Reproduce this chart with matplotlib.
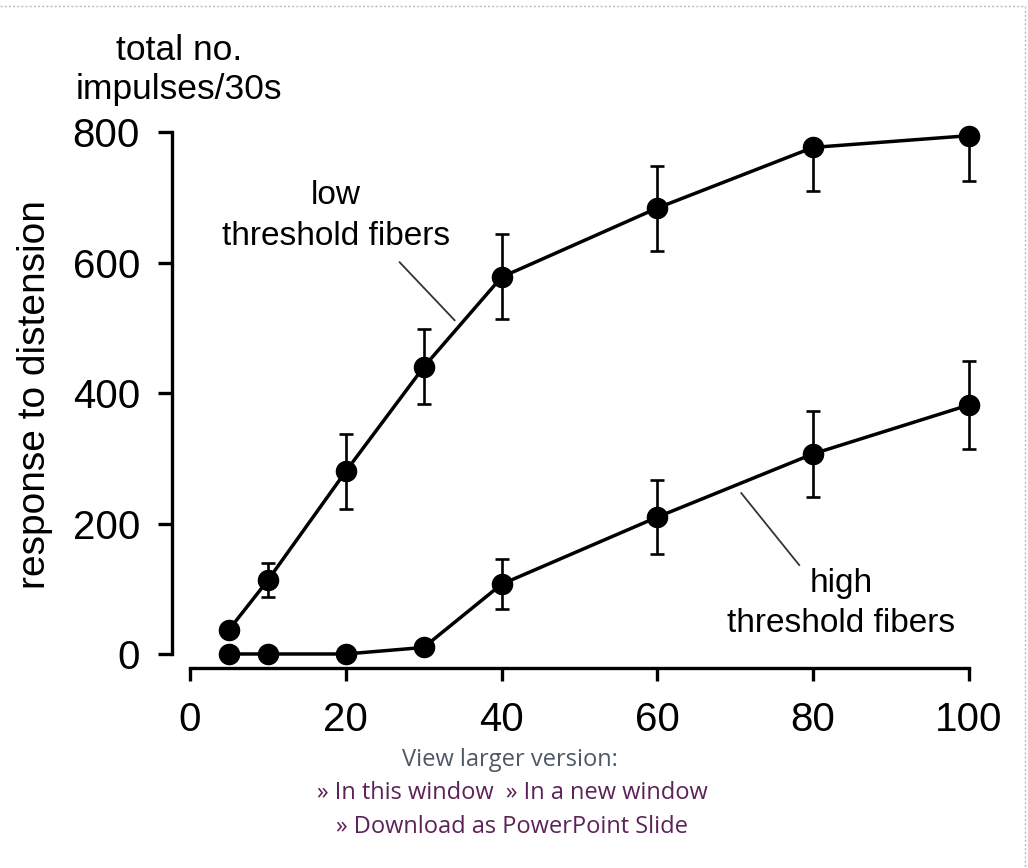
import matplotlib
matplotlib.use("Agg")
import matplotlib.pyplot as plt
from matplotlib.lines import Line2D

# ---- data ----
distension = [5, 10, 20, 30, 40, 60, 80, 100]
low_thr = [37, 113, 280, 440, 578, 684, 777, 795]
low_err_lo = [0, 26, 57, 57, 64, 66, 67, 70]
low_err_hi = [0, 26, 57, 58, 66, 65, 0, 0]
high_thr = [0, 0, 0, 10, 107, 210, 307, 382]
high_err = [0, 0, 0, 0, 38, 57, 66, 68]
xticks = [0, 20, 40, 60, 80, 100]
yticks = [0, 200, 400, 600, 800]

FONT = "Liberation Sans"
W, H = 1028, 868
fig = plt.figure(figsize=(W / 100, H / 100), dpi=100)
fig.patch.set_facecolor("white")

# axes placed in pixel terms
left_px, right_px, bot_px, top_px = 172, 969, 668, 132.4
ax = fig.add_axes([left_px / W, (H - bot_px) / H, (right_px - left_px) / W, (bot_px - top_px) / H])
ax.set_xlim(-2.3, 100)
ax.set_ylim(-21.5, 800)

for y, elo, ehi in [(low_thr, low_err_lo, low_err_hi), (high_thr, high_err, high_err)]:
    ax.errorbar(distension, y, yerr=[elo, ehi], fmt="none", ecolor="black",
                elinewidth=1.9, capsize=5, capthick=1.9, clip_on=False, zorder=2)
    ax.plot(distension, y, color="black", lw=2.5, marker="o", markersize=14.5,
            clip_on=False, zorder=3)

ax.spines["top"].set_visible(False)
ax.spines["right"].set_visible(False)
ax.spines["left"].set_bounds(0, 800)
ax.spines["bottom"].set_bounds(0, 100)
for s in ("left", "bottom"):
    ax.spines[s].set_linewidth(2.4)
ax.set_xticks(xticks)
ax.set_yticks(yticks)
ax.tick_params(axis="x", direction="out", length=9, width=2.4, pad=15, labelsize=29)
ax.tick_params(axis="y", direction="out", length=10, width=2.4, pad=13, labelsize=29)
for lab in ax.get_xticklabels() + ax.get_yticklabels():
    lab.set_fontfamily(FONT)

# axis titles
fig.text(35 / W, 1 - 395 / H, "response to distension", rotation=90, ha="center", va="center",
         fontsize=28, family=FONT)
fig.text(179 / W, 1 - 50 / H, "total no.", ha="center", va="center", fontsize=25.5, family=FONT)
fig.text(179 / W, 1 - 89 / H, "impulses/30s", ha="center", va="center", fontsize=25.5, family=FONT)

# annotations
def px2data(px, py):
    return (px - 190) / 7.8, (654 - py) / 0.6525

for (cx, l1y, l2y, t1), (a, b) in [((336, 195, 236, "low"), ((400, 262), (455, 320))),
                                     ((842, 583, 623, "high"), ((742, 493), (800, 565)))]:
    ax.text(*px2data(cx, l1y), t1, ha="center", va="center", fontsize=24, family=FONT)
    ax.text(*px2data(cx, l2y), "threshold fibers", ha="center", va="center", fontsize=24, family=FONT)
    (x0, y0), (x1, y1) = px2data(*a), px2data(*b)
    ax.plot([x0, x1], [y0, y1], color="#333333", lw=1.3, clip_on=False)

# footer
fig.text(510 / W, 1 - 760 / H, "View larger version:", ha="center", va="center",
         fontsize=17, family="Open Sans", color="#4d5866")
link = "#5c2358"
fig.text(512 / W, 1 - 793 / H, "» In this window  » In a new window", ha="center", va="center",
         fontsize=17, family="Open Sans", color=link)
fig.text(512 / W, 1 - 827 / H, "» Download as PowerPoint Slide", ha="center", va="center",
         fontsize=17, family="Open Sans", color=link)

# dotted frame
fig.add_artist(Line2D([0, 1025 / W], [1 - 6 / H, 1 - 6 / H], transform=fig.transFigure,
                      color="#bbbbbb", lw=1, ls=(0, (1.5, 1.5))))
fig.add_artist(Line2D([1025 / W, 1025 / W], [1 - 6 / H, 0], transform=fig.transFigure,
                      color="#bbbbbb", lw=1, ls=(0, (1.5, 1.5))))

fig.savefig("out.png", dpi=100)
